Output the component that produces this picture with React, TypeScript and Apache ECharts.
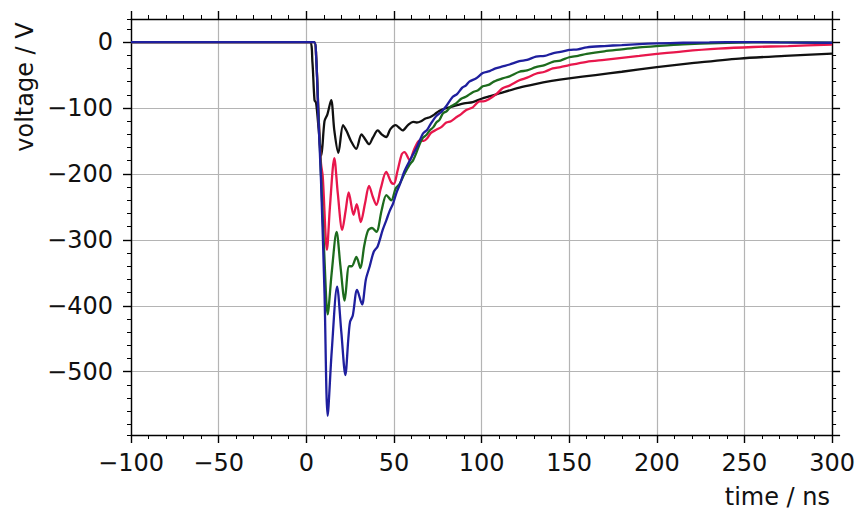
import React, { useEffect, useRef } from "react";
import * as echarts from "echarts";

// time (ns), voltage (V) pairs
const blackSeries: [number, number][] = [
  [-100, 0], [2, 0], [3.5, -30], [4.7, -88], [5.6, -92], [7, -130], [8.6, -172], [10.4, -120], [12, -110],
  [14.2, -88], [16, -134], [18.3, -168], [21, -126], [23, -135], [25.5, -150], [28.5, -162], [31.5, -140],
  [33.5, -147], [35.8, -155], [38, -145], [40.8, -134], [43, -140], [45.6, -144], [48, -132], [51, -126],
  [53, -130], [55, -134], [58, -126], [61, -121], [63, -122], [65.5, -120], [68, -116], [70.5, -114],
  [73, -110], [76, -104], [80, -100], [85.6, -96], [90, -93], [95, -91], [100, -86], [105, -82], [110, -78],
  [121.6, -69], [130, -64], [140, -59], [150, -55], [165, -50], [180, -45], [200, -38], [220, -32],
  [247, -25], [273, -21], [300, -17.5],
];

const redSeries: [number, number][] = [
  [-100, 0], [4.5, 0], [5.6, -20], [7, -110], [8.4, -184], [9.4, -204], [11.8, -315], [13.5, -250],
  [16, -176], [18, -230], [20.5, -285], [22.5, -255], [24.2, -228], [27, -262], [28.8, -246], [31.1, -273],
  [33.5, -245], [35.8, -218], [38, -235], [40, -247], [42.5, -222], [45.6, -197], [48.5, -213], [50, -215],
  [52, -196], [54.5, -170], [56, -167], [59, -179], [61.5, -163], [64.7, -149], [67, -150], [69, -146],
  [71, -138], [74.2, -133], [77, -129], [79.9, -122], [82.5, -120], [85.6, -114], [88, -110], [91.3, -103],
  [95, -99], [98.9, -90], [101, -90], [104.6, -86], [108.4, -79], [112, -70], [116, -66], [121.6, -58],
  [126, -54], [131, -48], [136, -45], [140.6, -40], [145, -38], [150, -35], [160, -30], [170, -27],
  [180, -24], [190, -21], [200, -18], [215, -14], [235, -10], [255, -7.5], [275, -6], [300, -4],
];

const greenSeries: [number, number][] = [
  [-100, 0], [4.5, 0], [5.6, -20], [7, -110], [8.4, -200], [10.4, -330], [12.2, -413], [14.5, -350],
  [17.3, -288], [19.5, -340], [21.9, -392], [24.4, -340], [26, -340], [28.6, -326], [30.9, -343], [33, -310],
  [35.2, -286], [37.5, -282], [40, -288], [43, -255], [45.7, -232], [48.5, -240], [51, -222], [53.3, -215],
  [56, -200], [59, -186], [61, -179], [62.8, -168], [64.5, -156], [66.6, -145], [68.5, -141], [70.4, -134],
  [72.5, -129], [74.2, -122], [76, -118], [78, -108], [80, -105], [82.7, -97], [85, -94], [88.4, -86],
  [91, -83], [95, -76], [98, -73], [100.7, -67], [104, -65], [107, -60], [112, -55], [116, -52],
  [121.6, -45], [126, -43], [131, -38], [136, -35], [140.6, -30], [145, -28], [150, -23], [155, -21],
  [160, -18], [170, -14], [180, -11], [190, -8], [200, -6], [215, -3.5], [235, -1.5], [255, -0.5],
  [275, -0.5], [300, -1],
];

const blueSeries: [number, number][] = [
  [-100, 0], [4.5, 0], [5.6, -20], [7, -120], [8.4, -210], [10.4, -380], [12.2, -567], [14.5, -470],
  [17.6, -371], [20, -440], [22.3, -505], [24, -450], [25, -424], [26.5, -415], [29, -376], [31.8, -398],
  [34, -360], [36.2, -340], [38.5, -318], [40.7, -310], [43.6, -285], [45.7, -270], [47.6, -256],
  [49.5, -245], [51.4, -229], [53.5, -215], [56, -196], [59, -180], [61, -170], [63, -160], [66.5, -139],
  [69, -133], [71, -124], [74.2, -112], [77, -106], [79.9, -97], [83.6, -83], [86, -79], [89, -69],
  [91, -66], [93, -60], [97, -55], [100.7, -47], [104.6, -44], [108, -40], [112, -37], [116, -34],
  [121.6, -29], [126, -27], [131, -22], [136, -21], [140.6, -17], [145, -15], [150, -12], [155, -11],
  [160, -8], [170, -6], [180, -4.5], [190, -3], [200, -2], [215, -1], [230, -0.5], [250, 0], [270, -0.5],
  [300, -1],
];

const seriesNames = ["black", "red", "green", "blue"];
const seriesColors = ["#111111", "#e8174c", "#1d6b1d", "#1f1f9e"];

const xRange = [-100, 300];
const yRange = [-596, 35];

const FONT = '"DejaVu Sans", sans-serif';

const minus = (v: number) => (v < 0 ? "\u2212" + Math.abs(v) : String(v));

export default function App() {
  const ref = useRef<HTMLDivElement>(null);
  useEffect(() => {
    if (!ref.current) return;
    const chart = echarts.init(ref.current, undefined, { renderer: "svg" });
    const axisLineStyle = { color: "#000", width: 1.4 };
    const baseX = {
      type: "value" as const,
      min: xRange[0],
      max: xRange[1],
      interval: 50,
      axisLine: { show: true, onZero: false, lineStyle: axisLineStyle },
      axisTick: { show: true, inside: false, length: 8, lineStyle: { color: "#000", width: 1.4 } },
      minorTick: { show: true, splitNumber: 5, length: 4, lineStyle: { color: "#000", width: 1 } },
    };
    const mkY = (position: "left" | "right", major: boolean, labels: boolean) => ({
      type: "value" as const,
      position,
      min: yRange[0],
      max: yRange[1],
      splitNumber: major ? 6 : 31,
      axisLine: { show: major, onZero: false, lineStyle: axisLineStyle },
      axisTick: { show: true, inside: false, length: major ? 8 : 4, lineStyle: { color: "#000", width: major ? 1.4 : 1 } },
      axisLabel: labels
        ? {
            show: true,
            showMinLabel: false,
            showMaxLabel: false,
            formatter: minus,
            fontSize: 24,
            fontFamily: FONT,
            color: "#111",
            margin: 18,
          }
        : { show: false },
      splitLine: { show: labels, lineStyle: { color: "#b4b4b4", width: 1.2 } },
    });
    const all = [blackSeries, redSeries, greenSeries, blueSeries];
    chart.setOption({
      animation: false,
      backgroundColor: "#fff",
      grid: { left: 131, right: 25, top: 19, bottom: 76, containLabel: false },
      xAxis: [
        {
          ...baseX,
          position: "bottom",
          axisLabel: { show: true, formatter: minus, fontSize: 24, fontFamily: FONT, color: "#111", margin: 16 },
          splitLine: { show: true, lineStyle: { color: "#b4b4b4", width: 1.2 } },
        },
        {
          ...baseX,
          position: "top",
          axisLabel: { show: false },
          splitLine: { show: false },
        },
      ],
      yAxis: [mkY("left", true, true), mkY("left", false, false), mkY("right", true, false), mkY("right", false, false)],
      series: all.map((d, i) => ({
        name: seriesNames[i],
        type: "line",
        xAxisIndex: 0,
        yAxisIndex: 0,
        data: d,
        showSymbol: false,
        symbol: "none",
        smooth: 0.3,
        lineStyle: { color: seriesColors[i], width: 2.3 },
        clip: true,
      })),
      graphic: [
        {
          type: "text",
          x: 25,
          y: 87,
          rotation: Math.PI / 2,
          style: {
            text: "voltage / V",
            fontSize: 24,
            fontFamily: FONT,
            fill: "#111",
            align: "center",
            verticalAlign: "middle",
            textAlign: "center",
            textVerticalAlign: "middle",
          },
        },
        {
          type: "text",
          x: 830,
          y: 497,
          style: {
            text: "time / ns",
            fontSize: 24,
            fontFamily: FONT,
            fill: "#111",
            align: "right",
            verticalAlign: "middle",
            textAlign: "right",
            textVerticalAlign: "middle",
          },
        },
      ],
    });
    return () => chart.dispose();
  }, []);
  return <div ref={ref} style={{ position: "fixed", left: 0, top: 0, width: 858, height: 511, background: "#fff" }} />;
}
